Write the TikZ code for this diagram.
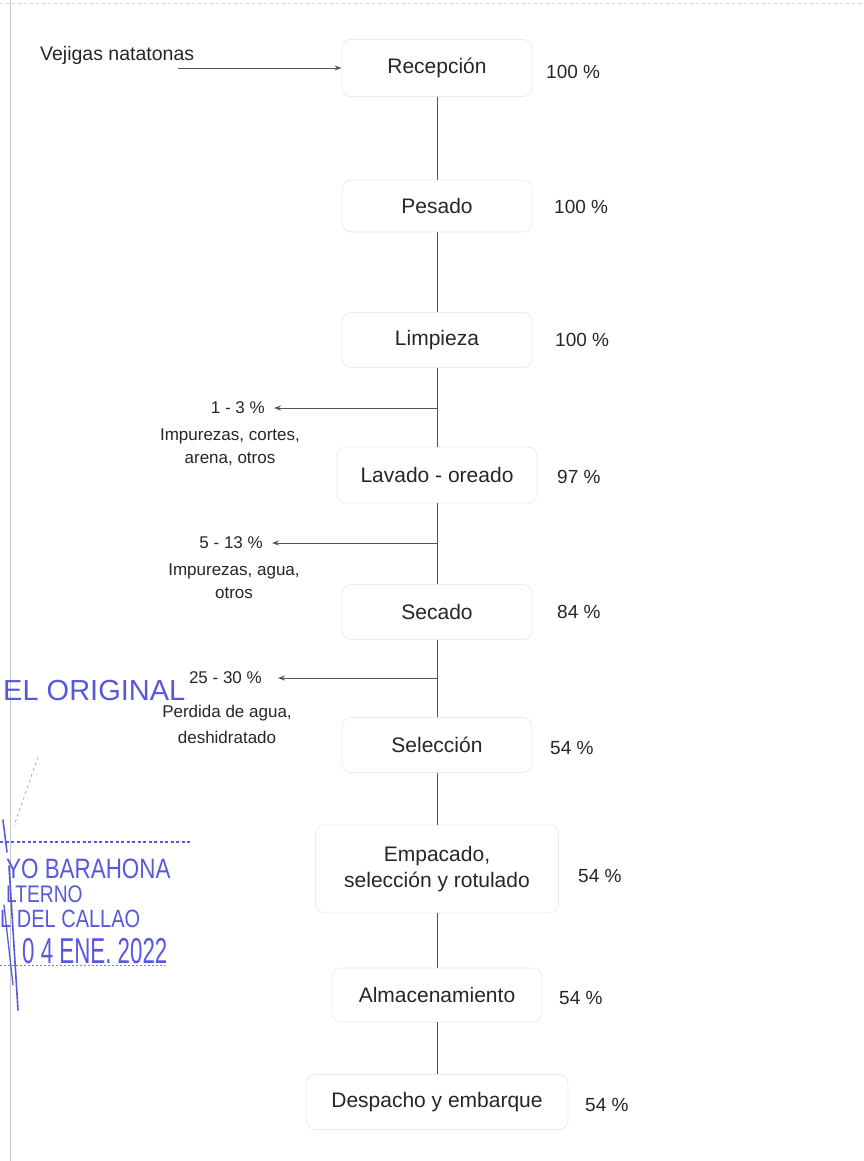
\documentclass[tikz,border=0pt]{standalone}
\usepackage{fontspec}
\setmainfont{Liberation Sans}
\newfontfamily\stampfont[FakeStretch=0.8]{Liberation Sans}
\newfontfamily\stampwide{Liberation Sans}
\newfontfamily\datefont[FakeStretch=0.62]{Liberation Sans}
\usetikzlibrary{arrows.meta}
\definecolor{ink}{HTML}{262626}
\definecolor{stampblue}{RGB}{88,88,222}
\definecolor{linegray}{HTML}{555555}
\begin{document}
\begin{tikzpicture}[x=1pt,y=-1pt,
  stepbox/.style={draw=black!8, line width=0.8pt, rounded corners=9pt, text=ink,
    font=\fontsize{21}{26}\selectfont, align=center, inner sep=0pt},
  pct/.style={anchor=west, text=ink, font=\fontsize{19}{22}\selectfont, inner sep=0pt},
  side/.style={text=ink, font=\fontsize{17}{23}\selectfont, align=center, inner sep=0pt},
  conn/.style={draw=linegray, line width=0.9pt},
  outarrow/.style={conn, -{Stealth[length=7pt,width=5pt]}},
  stamp/.style={text=stampblue, inner sep=0pt, anchor=base west}
]
\useasboundingbox (0,0) rectangle (863,1161);
% page frame
\draw[black!22, line width=0.6pt] (10,0) -- (10,1161);
\draw[black!18, line width=0.6pt, dashed] (0,3) -- (863,3);

% steps
\node[stepbox, minimum width=190pt, minimum height=57pt] (rec) at (437,68) {Recepción};
\node[stepbox, minimum width=190pt, minimum height=52pt] (pes) at (437,206) {Pesado};
\node[stepbox, minimum width=190pt, minimum height=55pt] (lim) at (437,340) {Limpieza};
\node[stepbox, minimum width=200pt, minimum height=56pt] (lav) at (437,475) {Lavado - oreado};
\node[stepbox, minimum width=190pt, minimum height=55pt] (sec) at (437,612) {Secado};
\node[stepbox, minimum width=190pt, minimum height=55pt] (sel) at (437,745) {Selección};
\node[stepbox, minimum width=243pt, minimum height=88pt] (emp) at (437,869) {Empacado,\\selección y rotulado};
\node[stepbox, minimum width=210pt, minimum height=54pt] (alm) at (437,995) {Almacenamiento};
\node[stepbox, minimum width=262pt, minimum height=55pt] (des) at (437,1102) {Despacho y embarque};

% percentages
\node[pct] (qrec) at (546,72) {100 \%};
\node[pct] (qpes) at (554,207) {100 \%};
\node[pct] (qlim) at (555,340) {100 \%};
\node[pct] (qlav) at (557,477) {97 \%};
\node[pct] (qsec) at (557,612) {84 \%};
\node[pct] (qsel) at (550,748) {54 \%};
\node[pct] (qemp) at (578,876) {54 \%};
\node[pct] (qalm) at (559,998) {54 \%};
\node[pct] (qdes) at (585,1105) {54 \%};

% input
\node[text=ink, font=\fontsize{19.5}{22}\selectfont, inner sep=0pt, anchor=west] (vej) at (40,55) {Vejigas natatonas};
\coordinate (vin) at (178,68);
\draw[outarrow] (vin) -- (rec.west);

% main flow
\draw[conn] (rec.south) -- (pes.north);
\draw[conn] (pes.south) -- (lim.north);
\draw[conn] (lim.south) -- (lav.north);
\draw[conn] (lav.south) -- (sec.north);
\draw[conn] (sec.south) -- (sel.north);
\draw[conn] (sel.south) -- (emp.north);
\draw[conn] (emp.south) -- (alm.north);
\draw[conn] (alm.south) -- (des.north);

% losses
\coordinate (b1) at (437,408);
\coordinate (b2) at (437,543);
\coordinate (b3) at (437,678);
\node[side, anchor=east] (p1) at (265,408) {1 - 3 \%};
\node[side] (d1) at (230,447) {Impurezas, cortes,\\arena, otros};
\node[side, anchor=east] (p2) at (263,543) {5 - 13 \%};
\node[side] (d2) at (234,581) {Impurezas, agua,\\otros};
\node[side, anchor=east] (p3) at (262,678) {25 - 30 \%};
\node[side, font=\fontsize{17}{26}\selectfont] (d3) at (227,724) {Perdida de agua,\\deshidratado};
\draw[outarrow, shorten >=9pt] (b1) -- (p1.east);
\draw[outarrow, shorten >=9pt] (b2) -- (p2.east);
\draw[outarrow, shorten >=16pt] (b3) -- (p3.east);

% stamp
\node[stamp, font=\stampwide\fontsize{29}{30}\selectfont] (s1) at (3,700) {EL ORIGINAL};
\draw[stampblue, line width=1.2pt, dash pattern=on 3pt off 2.5pt] (0,842) -- (190,842);
\node[stamp, font=\stampfont\fontsize{28}{30}\selectfont] (s2) at (6,878) {YO BARAHONA};
\node[stamp, font=\stampfont\fontsize{24}{26}\selectfont] (s3) at (6,902) {LTERNO};
\node[stamp, font=\stampfont\fontsize{25}{27}\selectfont] (s4) at (0,927) {L DEL CALLAO};
\node[stamp, font=\datefont\fontsize{36}{38}\selectfont] (s5) at (22,963) {0 4 ENE. 2022};
\draw[stampblue!80, line width=1pt, dash pattern=on 2pt off 2pt] (0,965) -- (165,965);
\draw[stampblue, line width=1.6pt, line cap=round] (3,820) -- (7,852);
\draw[stampblue, line width=1.6pt, line cap=round] (9,866) -- (18,1010);
\draw[stampblue, line width=1.3pt, line cap=round] (4,905) -- (13,985);
\draw[black!45, line width=0.5pt, dash pattern=on 3pt off 3pt] (38,757) -- (14,826);
\end{tikzpicture}
\end{document}
